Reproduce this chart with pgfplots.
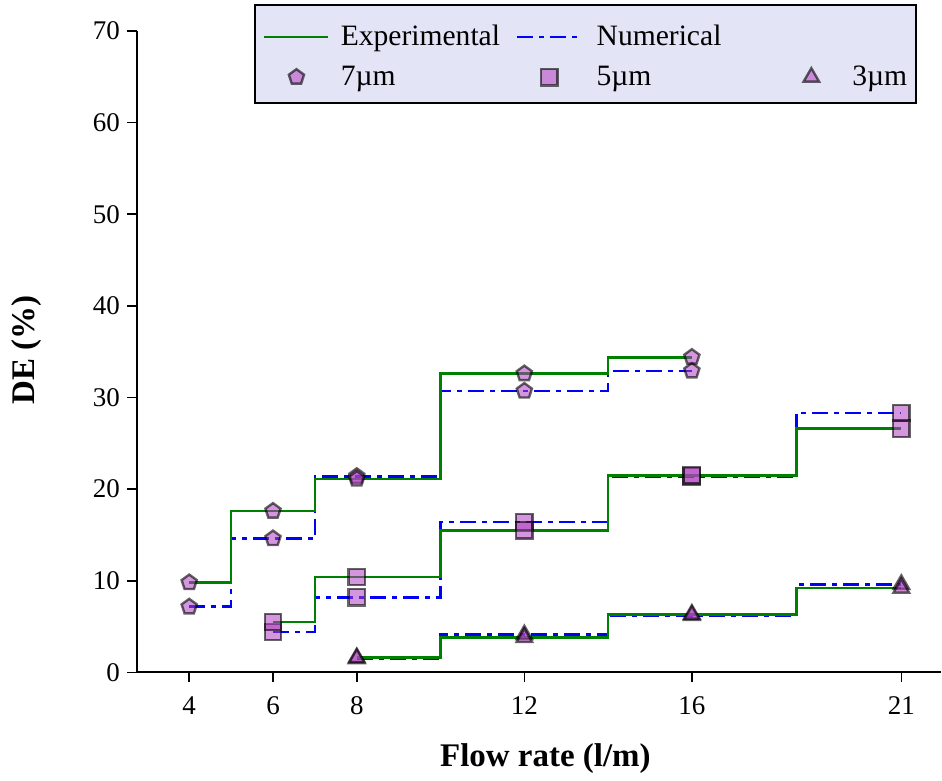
\documentclass[border=0pt]{standalone}
\usepackage{pgfplots}
\pgfplotsset{compat=1.18}
\usepackage{fontspec}
\setmainfont{Liberation Serif}
\usetikzlibrary{plotmarks}
\definecolor{expgreen}{RGB}{0,128,0}
\definecolor{numblue}{RGB}{0,0,255}
\definecolor{mkfill}{RGB}{176,64,192}
\definecolor{legbg}{RGB}{228,228,247}

\pgfplotsset{
  mk/.style={mark options={solid, fill=mkfill, fill opacity=0.55, draw=black, draw opacity=0.6, line width=1.2pt}},
  expline/.style={const plot mark mid, color=expgreen, line width=1.35pt},
  numline/.style={const plot mark mid, color=numblue, line width=1.35pt, dash pattern=on 8pt off 3pt on 2.5pt off 3pt},
  m7/.style={mark=pentagon*, mark size=4pt, mk},
  m5/.style={mark=square*, mark size=4.1pt, mk},
  m3/.style={mark=triangle*, mark size=4.5pt, mk},
  legline/.style={legend image code/.code={\draw[##1] (0pt,0pt) -- (32pt,0pt);}},
  legmark/.style={legend image code/.code={\draw[##1] plot coordinates {(16pt,0pt)};}},
  legempty/.style={legend image code/.code={\path[draw=none,fill=none] (0pt,0pt) -- (32pt,0pt);}},
}

\begin{document}
\begin{tikzpicture}
\begin{axis}[
  scale only axis, width=402.5pt, height=321pt,
  xmin=2.75, xmax=21.95, ymin=0, ymax=70,
  clip=false,
  axis lines=left, axis line style={-, line width=0.9pt},
  xtick={4,6,8,12,16,21}, ytick={0,10,...,70},
  tick align=outside, major tick length=5pt,
  tick style={line width=0.8pt, black},
  ticklabel style={font=\fontsize{13.5}{16}\selectfont},
  xticklabel style={yshift=-3.5pt},
  /pgf/number format/assume math mode=true,
  xlabel={Flow rate (l/m)}, ylabel={DE (\%)},
  every axis x label/.style={at={(rel axis cs:0.508,-0.1345)}, anchor=center, font=\bfseries\fontsize{16.5}{19}\selectfont},
  every axis y label/.style={at={(rel axis cs:-0.1366,0.503)}, rotate=90, anchor=center, font=\bfseries\fontsize{16.5}{19}\selectfont},
  legend columns=3,
  legend style={at={(rel axis cs:0.1565,1.0156)}, anchor=north west,
    fill=none, draw=none,
    font=\fontsize{14.8}{17}\selectfont,
    inner xsep=0pt, inner ysep=0pt, row sep=4.5pt, column sep=1.5pt,
    nodes={inner sep=2pt},
    /tikz/column 1/.append style={column sep=3.5pt},
    /tikz/column 2/.append style={column sep=6pt},
    /tikz/column 3/.append style={column sep=5pt},
    /tikz/column 4/.append style={column sep=27pt},
    /tikz/column 5/.append style={column sep=2.5pt}},
  legend cell align=left,
]
\draw[fill=legbg, line width=0.9pt] (rel axis cs:0.1466,1.0405) rectangle (rel axis cs:0.9689,0.8879);
% 7 um
\addplot[numline, m7, forget plot] coordinates {(4,7.15) (6,14.6) (8,21.4) (12,30.7) (16,32.9)};
\addplot[expline, m7, forget plot] coordinates {(4,9.8) (6,17.6) (8,21.1) (12,32.6) (16,34.4)};
% 5 um
\addplot[numline, m5, forget plot] coordinates {(6,4.4) (8,8.2) (12,16.4) (16,21.4) (21,28.3)};
\addplot[expline, m5, forget plot] coordinates {(6,5.5) (8,10.4) (12,15.5) (16,21.5) (21,26.6)};
% 3 um
\addplot[numline, m3, forget plot] coordinates {(8,1.5) (12,4.1) (16,6.2) (21,9.6)};
\addplot[expline, m3, forget plot] coordinates {(8,1.6) (12,3.8) (16,6.35) (21,9.2)};

\addlegendimage{color=expgreen, line width=1.35pt, legline}
\addlegendentry{Experimental}
\addlegendimage{color=numblue, line width=1.35pt, dash pattern=on 8pt off 3pt on 2.5pt off 3pt, legline}
\addlegendentry{Numerical}
\addlegendimage{legempty}
\addlegendentry{}
\addlegendimage{only marks, m7, legmark}
\addlegendentry{7µm}
\addlegendimage{only marks, m5, legmark}
\addlegendentry{5µm}
\addlegendimage{only marks, m3, legmark}
\addlegendentry{3µm}

\coordinate (O) at (rel axis cs:0,0);
\end{axis}
\path ([shift={(-68.5pt,-54pt)}]O) rectangle ([shift={(402.5pt,336.5pt)}]O);
\end{tikzpicture}
\end{document}
